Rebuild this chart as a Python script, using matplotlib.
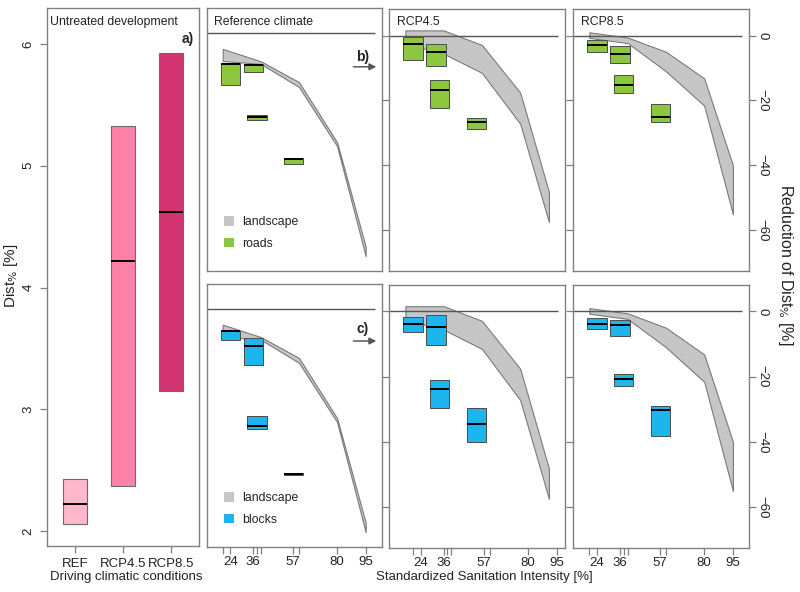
import matplotlib
matplotlib.use('Agg')
import matplotlib.pyplot as plt
from matplotlib.patches import Patch
from matplotlib.transforms import blended_transform_factory
import numpy as np

plt.rcParams['font.family'] = ['Liberation Sans', 'DejaVu Sans']

# ---------------- data ----------------
# panel a) untreated development
climates = ['REF', 'RCP4.5', 'RCP8.5']
untreated_low = [2.06, 2.37, 3.15]
untreated_high = [2.43, 5.33, 5.93]
untreated_median = [2.22, 4.22, 4.62]

# sanitation intensity positions
box_x = [24, 36, 38, 57]
land_x = [20, 40, 60, 80, 95]
sanit_ticks = [20, 24, 36, 38, 40, 57, 60, 80, 95]
sanit_labels = ['', '24', '36', '', '', '57', '', '80', '95']

# landscape band (reduction of Dist %)
land_upper_ref = [-4.8, -8.6, -15.0, -33.5, -65.6]
land_lower_ref = [-8.5, -9.4, -16.5, -34.7, -68.5]
land_upper_rcp45 = [1.6, 1.6, -2.9, -17.6, -48.2]
land_lower_rcp45 = [-2.5, -5.6, -11.5, -27.2, -57.5]
land_upper_rcp85 = [1.0, -0.6, -5.0, -13.2, -40.0]
land_lower_rcp85 = [-0.7, -2.3, -11.0, -21.6, -55.1]

# roads
roads_low_ref = [-15.9, -11.8, -26.7, -40.3]
roads_high_ref = [-9.2, -9.5, -25.1, -38.3]
roads_med_ref = [-9.4, -9.8, -25.6, -38.7]
roads_low_rcp45 = [-7.6, -9.4, -22.4, -28.7]
roads_high_rcp45 = [-0.4, -2.6, -13.7, -25.5]
roads_med_rcp45 = [-2.5, -5.2, -16.9, -26.5]
roads_low_rcp85 = [-5.1, -8.4, -17.7, -26.7]
roads_high_rcp85 = [-1.5, -3.3, -12.3, -21.1]
roads_med_rcp85 = [-2.8, -5.8, -15.2, -25.0]

# blocks
blocks_low_ref = [-9.6, -17.1, -36.9, -51.1]
blocks_high_ref = [-6.6, -8.9, -32.8, -50.4]
blocks_med_ref = [-6.7, -11.4, -35.9, -50.8]
blocks_low_rcp45 = [-6.4, -10.2, -29.6, -40.2]
blocks_high_rcp45 = [-1.7, -1.2, -21.2, -29.6]
blocks_med_rcp45 = [-3.8, -4.8, -23.9, -34.6]
blocks_low_rcp85 = [-5.5, -7.7, -22.8, -38.3]
blocks_high_rcp85 = [-1.9, -2.6, -19.1, -28.9]
blocks_med_rcp85 = [-4.0, -4.1, -20.7, -30.2]

reduction_ticks = [0, -20, -40, -60]
reduction_labels = ['0', '\u221220', '\u221240', '\u221260']

# ---------------- style ----------------
W, H = 800, 592
GRAY = '#808080'
LAND_FACE = '#C6C6C6'
LAND_EDGE = '#7A7A7A'
GREEN = '#8DC63F'
BLUE = '#1DB5EE'
PINKS = ['#FFB8CB', '#FF80A8', '#D5336F']
BOXEDGE = '#4D4D4D'
TICK_FS = 9.5
TITLE_FS = 8.8
TXT = '#222222'

fig = plt.figure(figsize=(W / 100, H / 100), dpi=100)


def add_ax(x0, y0, x1, y1):
    ax = fig.add_axes([x0 / W, 1 - y1 / H, (x1 - x0) / W, (y1 - y0) / H])
    for s in ax.spines.values():
        s.set_color(GRAY)
        s.set_linewidth(1.0)
    ax.tick_params(labelcolor=TXT, color=GRAY, length=5, width=0.9,
                   direction='out', labelsize=TICK_FS)
    return ax


# ---------------- panel a) ----------------
axa = add_ax(46.7, 8, 199.3, 545.7)
pos = np.arange(1, len(climates) + 1)
axa.bar(pos, np.array(untreated_high) - np.array(untreated_low), bottom=untreated_low,
        width=0.5, color=PINKS, edgecolor='#6A6A6A', linewidth=0.8, zorder=2)
axa.hlines(untreated_median, pos - 0.25, pos + 0.25, color='black', lw=1.4, zorder=3)
axa.set_xlim(0.4, 3.6)
axa.set_ylim(1.879, 6.296)
axa.set_xticks(pos)
axa.set_xticklabels(climates)
axa.tick_params(axis='x', pad=4)
axa.set_yticks([2, 3, 4, 5, 6])
axa.set_yticklabels(['2', '3', '4', '5', '6'], rotation=90, va='center')
axa.tick_params(axis='y', pad=4)
axa.text(0.022, 0.9745, 'Untreated development', transform=axa.transAxes,
         fontsize=TITLE_FS, va='center', ha='left', color=TXT)
axa.text(0.962, 0.942, 'a)', transform=axa.transAxes, fontsize=10,
         fontweight='bold', va='center', ha='right', color=TXT)

# ---------------- right panels ----------------
XLIM = (11.6, 103.4)
YLIM_REF = (-73.0, 7.7)
YLIM_RCP = (-72.5, 8.1)

panels = [
    (206.7, 8.3, 381.7, 270.7, land_upper_ref, land_lower_ref,
     roads_low_ref, roads_high_ref, roads_med_ref, GREEN, 'Reference climate', YLIM_REF, 0, 0),
    (389.3, 9.3, 565.0, 270.7, land_upper_rcp45, land_lower_rcp45,
     roads_low_rcp45, roads_high_rcp45, roads_med_rcp45, GREEN, 'RCP4.5', YLIM_RCP, 0, 1),
    (573.3, 9.3, 749.0, 270.7, land_upper_rcp85, land_lower_rcp85,
     roads_low_rcp85, roads_high_rcp85, roads_med_rcp85, GREEN, 'RCP8.5', YLIM_RCP, 0, 2),
    (206.7, 284.0, 381.7, 546.7, land_upper_ref, land_lower_ref,
     blocks_low_ref, blocks_high_ref, blocks_med_ref, BLUE, None, YLIM_REF, 1, 0),
    (389.3, 285.0, 565.0, 547.7, land_upper_rcp45, land_lower_rcp45,
     blocks_low_rcp45, blocks_high_rcp45, blocks_med_rcp45, BLUE, None, YLIM_RCP, 1, 1),
    (573.3, 285.0, 749.0, 547.7, land_upper_rcp85, land_lower_rcp85,
     blocks_low_rcp85, blocks_high_rcp85, blocks_med_rcp85, BLUE, None, YLIM_RCP, 1, 2),
]

bw = 10.0
for (x0, y0, x1, y1, up, lo, blo, bhi, bmed, col, title, ylim, row, c) in panels:
    ax = add_ax(x0, y0, x1, y1)
    ax.set_xlim(*XLIM)
    ax.set_ylim(*ylim)
    ax.fill_between(land_x, lo, up, facecolor=LAND_FACE, edgecolor=LAND_EDGE,
                    linewidth=0.8, zorder=1)
    ax.hlines(0, XLIM[0], 100, color='#555555', lw=1.0, zorder=2)
    ax.bar(box_x, np.array(bhi) - np.array(blo), bottom=blo, width=bw,
           color=col, edgecolor=BOXEDGE, linewidth=0.7, zorder=3)
    bx = np.array(box_x, dtype=float)
    ax.hlines(bmed, bx - bw / 2, bx + bw / 2, color='black', lw=1.4, zorder=4)

    # x axis
    if row == 1:
        shift = 4.0 if c == 1 else 0.0
        ax.set_xticks(np.array(sanit_ticks) + shift)
        ax.set_xticklabels(sanit_labels)
        ax.tick_params(axis='x', pad=2)
    else:
        ax.set_xticks([])
    # y axis
    if c == 0:
        ax.set_yticks([])
    else:
        ax.set_yticks(reduction_ticks)
        if c == 2:
            ax.tick_params(axis='y', left=True, right=True, labelleft=False,
                           labelright=False)
            tr = blended_transform_factory(ax.transAxes, ax.transData)
            lx = 1 + (762.0 - x1) / (x1 - x0)
            for v, lab in zip(reduction_ticks, reduction_labels):
                ax.text(lx, v, lab, transform=tr, rotation=-90, ha='center',
                        va='center', fontsize=TICK_FS, color=TXT, clip_on=False)
        else:
            ax.tick_params(axis='y', left=True, labelleft=False)

    if title:
        tx = 7.5 / (x1 - x0)
        ty = 1 - (21.7 - y0) / (y1 - y0)
        ax.text(tx, ty, title, transform=ax.transAxes, fontsize=TITLE_FS,
                ha='left', va='center', color=TXT)

    if c == 0:
        label = 'b)' if row == 0 else 'c)'
        ty = 0.814 if row == 0 else 0.828
        ay = 0.777 if row == 0 else 0.783
        ax.text(0.893, ty, label, transform=ax.transAxes, fontsize=10,
                fontweight='bold', ha='center', va='center', color=TXT)
        ax.annotate('', xy=(0.985, ay), xytext=(0.823, ay), xycoords='axes fraction',
                    textcoords='axes fraction',
                    arrowprops=dict(arrowstyle='-|>', color='#555555', lw=1.1,
                                    mutation_scale=10))
        handles = [Patch(facecolor=LAND_FACE, edgecolor='none'),
                   Patch(facecolor=col, edgecolor='none')]
        labels = ['landscape', 'roads' if row == 0 else 'blocks']
        ax.legend(handles, labels, loc='lower left', bbox_to_anchor=(0.07, 0.06),
                  frameon=False, fontsize=8.8, handlelength=0.8, handleheight=0.8,
                  handletextpad=0.7, labelspacing=0.8, borderaxespad=0.0,
                  labelcolor=TXT)

# ---------------- axis labels ----------------
fig.text(126 / W, 1 - 577 / H, 'Driving climatic conditions', fontsize=9.5,
         ha='center', va='center', color=TXT)
fig.text(484 / W, 1 - 577 / H, 'Standardized Sanitation Intensity [%]', fontsize=9.5,
         ha='center', va='center', color=TXT)
fig.text(11 / W, 1 - 276 / H, r'Dist$_{\%}$ [%]', fontsize=11, rotation=90,
         ha='center', va='center', color=TXT)
fig.text(786 / W, 1 - 265 / H, r'Reduction of Dist$_{\%}$ [%]', fontsize=11.5,
         rotation=-90, ha='center', va='center', color=TXT)

fig.savefig('out.png', dpi=100)
